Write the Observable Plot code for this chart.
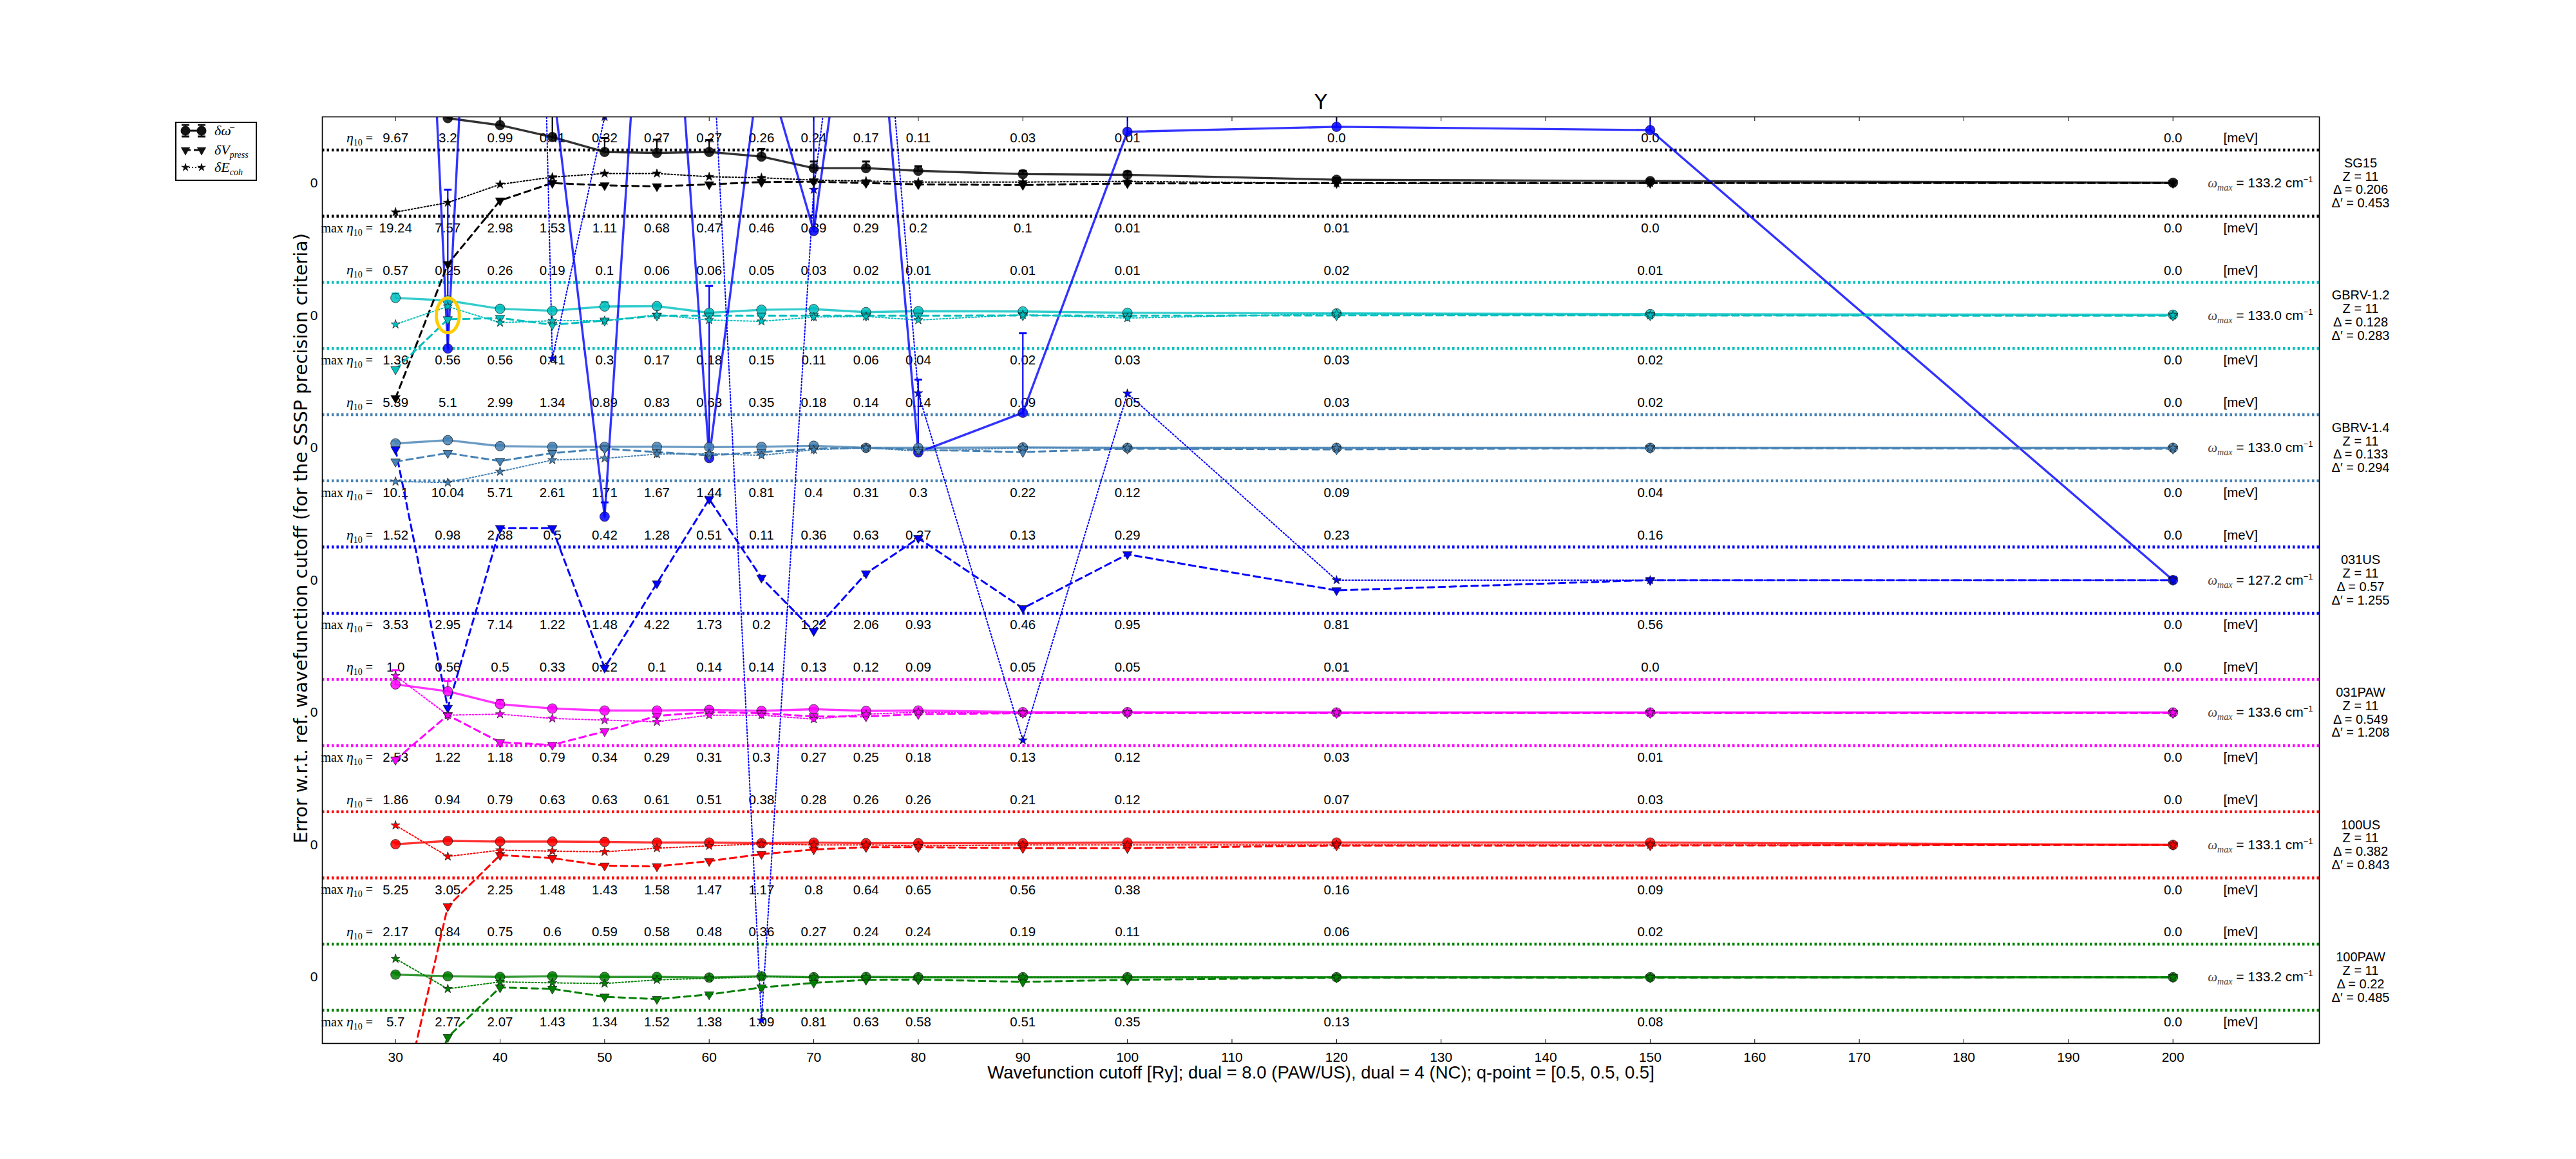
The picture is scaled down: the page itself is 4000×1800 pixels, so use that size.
<!DOCTYPE html>
<html>
<head>
<meta charset="utf-8">
<script src="https://cdn.jsdelivr.net/npm/d3@7"></script>
<script src="https://cdn.jsdelivr.net/npm/@observablehq/plot@0.6"></script>
<style>
  html, body { margin: 0; padding: 0; background: #ffffff; }
  #wrap { position: relative; width: 4000px; height: 1800px; overflow: hidden; }
  #legend { position: absolute; left: 271px; top: 188px; }
</style>
</head>
<body>
<div id="wrap"></div>
<script>
// ---------------- data ----------------
const cutoffs = [30, 35, 40, 45, 50, 55, 60, 65, 70, 75, 80, 90, 100, 120, 150, 200];
const pseudos = ["SG15", "GBRV-1.2", "GBRV-1.4", "031US", "031PAW", "100US", "100PAW"];
const zNumber = [11, 11, 11, 11, 11, 11, 11];
const omegaMax = [133.2, 133.0, 133.0, 127.2, 133.6, 133.1, 133.2];
const delta = [0.206, 0.128, 0.133, 0.57, 0.549, 0.382, 0.22];
const deltaPrime = [0.453, 0.283, 0.294, 1.255, 1.208, 0.843, 0.485];

// errors in units of the precision criterion (band = +-1)
const dOmega = [
  [3.5, 1.96, 1.75, 1.39, 0.94, 0.91, 0.94, 0.8, 0.45, 0.45, 0.37, 0.27, 0.25, 0.1, 0.06, 0.01],
  [0.53, 0.45, 0.2, 0.14, 0.27, 0.28, 0.08, 0.17, 0.19, 0.1, 0.13, 0.12, 0.08, 0.06, 0.04, 0.02],
  [0.13, 0.23, 0.05, 0.03, 0.03, 0.03, 0.02, 0.03, 0.06, 0.0, 0.0, 0.01, 0.0, 0.0, 0.0, 0.0],
  [40.8, 7.0, 38.9, 15.1, 1.92, 26, 3.69, 16, 10.55, 22, 3.86, 5.06, 13.55, 13.7, 13.6, 0.0],
  [0.85, 0.64, 0.25, 0.12, 0.06, 0.06, 0.08, 0.05, 0.1, 0.05, 0.06, 0.01, 0.01, 0.0, 0.0, 0.0],
  [0.02, 0.12, 0.1, 0.1, 0.09, 0.07, 0.07, 0.05, 0.07, 0.05, 0.05, 0.05, 0.07, 0.07, 0.07, 0.0],
  [0.08, 0.03, 0.01, 0.03, 0.01, 0.01, -0.01, 0.03, 0.0, 0.01, 0.0, 0.0, 0.0, 0.0, 0.0, 0.0]
];
const dOmegaErr = [
  [1.0, 0.8, 0.7, 0.65, 0.42, 0.4, 0.36, 0.23, 0.2, 0.2, 0.14, 0.1, 0.1, 0.05, 0.05, 0.02],
  [0.13, 0.08, 0.05, 0.05, 0.13, 0.05, 0.04, 0.04, 0.04, 0.03, 0.03, 0.02, 0.02, 0.02, 0.02, 0.01],
  [0.08, 0.06, 0.04, 0.04, 0.04, 0.03, 0.03, 0.03, 0.03, 0.02, 0.02, 0.02, 0.02, 0.01, 0.01, 0.01],
  [5.0, 4.8, 5.0, 5.0, 0.43, 5.0, 5.2, 5.0, 6.0, 5.0, 2.2, 2.4, 2.0, 2.0, 2.0, 0.1],
  [0.43, 0.31, 0.13, 0.05, 0.04, 0.04, 0.04, 0.03, 0.03, 0.03, 0.03, 0.02, 0.02, 0.01, 0.01, 0.01],
  [0.06, 0.05, 0.05, 0.05, 0.05, 0.04, 0.04, 0.04, 0.04, 0.03, 0.03, 0.03, 0.03, 0.02, 0.02, 0.01],
  [0.06, 0.05, 0.05, 0.05, 0.04, 0.04, 0.04, 0.04, 0.03, 0.03, 0.03, 0.03, 0.02, 0.02, 0.02, 0.01]
];
const dVpress = [
  [-6.5, -2.45, -0.53, 0.0, -0.07, -0.1, -0.04, 0.03, 0.04, 0.0, -0.04, -0.06, -0.01, 0.0, 0.0, 0.0],
  [-1.63, -0.12, -0.08, -0.28, -0.16, -0.01, -0.01, -0.01, -0.01, -0.01, -0.01, 0.0, -0.01, 0.0, 0.0, -0.01],
  [-0.42, -0.16, -0.4, -0.16, -0.03, -0.13, -0.23, -0.13, -0.03, 0.0, -0.06, -0.13, -0.03, -0.05, -0.01, -0.03],
  [3.95, -3.86, 1.57, 1.57, -2.65, -0.1, 2.45, 0.07, -1.54, 0.2, 1.27, -0.85, 0.78, -0.31, 0.0, 0.0],
  [-1.43, -0.08, -0.9, -0.98, -0.57, -0.1, 0.01, -0.02, -0.12, -0.12, -0.05, -0.02, -0.02, -0.02, -0.02, -0.02],
  [-8.7, -1.86, -0.31, -0.4, -0.63, -0.65, -0.49, -0.28, -0.14, -0.07, -0.07, -0.1, -0.1, -0.02, -0.02, 0.0],
  [-6.0, -1.81, -0.31, -0.35, -0.59, -0.66, -0.52, -0.31, -0.17, -0.08, -0.07, -0.14, -0.08, -0.01, -0.01, 0.0]
];
const dEcoh = [
  [-0.88, -0.59, -0.04, 0.18, 0.29, 0.29, 0.19, 0.16, 0.09, 0.06, 0.03, 0.03, 0.05, -0.01, 0.0, 0.0],
  [-0.27, 0.27, -0.22, -0.16, -0.16, 0.02, -0.14, -0.18, -0.05, -0.03, -0.14, 0.02, -0.08, 0.05, 0.0, 0.0],
  [-1.02, -1.05, -0.72, -0.37, -0.32, -0.19, -0.18, -0.23, -0.06, 0.0, -0.1, 0.0, 0.0, 0.0, 0.0, 0.0],
  [80, 85, 73, 6.7, 14.0, 30, 18.4, -13.3, 11.8, 24.5, 5.65, -4.84, 5.64, 0.0, 0.0, 0.0],
  [1.11, -0.08, -0.05, -0.18, -0.23, -0.28, -0.08, -0.08, -0.2, -0.05, 0.01, -0.02, 0.0, 0.0, 0.0, 0.0],
  [0.59, -0.35, -0.16, -0.19, -0.21, -0.1, -0.03, 0.03, 0.0, 0.0, -0.03, 0.0, 0.0, 0.0, 0.0, 0.0],
  [0.56, -0.35, -0.14, -0.17, -0.19, -0.08, -0.03, 0.01, 0.0, 0.0, 0.0, 0.0, 0.0, 0.0, 0.0, 0.0]
];
const eta10 = [
  [9.67, 3.2, 0.99, 0.41, 0.32, 0.27, 0.27, 0.26, 0.24, 0.17, 0.11, 0.03, 0.01, 0.0, 0.0, 0.0],
  [0.57, 0.25, 0.26, 0.19, 0.1, 0.06, 0.06, 0.05, 0.03, 0.02, 0.01, 0.01, 0.01, 0.02, 0.01, 0.0],
  [5.39, 5.1, 2.99, 1.34, 0.89, 0.83, 0.63, 0.35, 0.18, 0.14, 0.14, 0.09, 0.05, 0.03, 0.02, 0.0],
  [1.52, 0.98, 2.88, 0.5, 0.42, 1.28, 0.51, 0.11, 0.36, 0.63, 0.27, 0.13, 0.29, 0.23, 0.16, 0.0],
  [1.0, 0.56, 0.5, 0.33, 0.12, 0.1, 0.14, 0.14, 0.13, 0.12, 0.09, 0.05, 0.05, 0.01, 0.0, 0.0],
  [1.86, 0.94, 0.79, 0.63, 0.63, 0.61, 0.51, 0.38, 0.28, 0.26, 0.26, 0.21, 0.12, 0.07, 0.03, 0.0],
  [2.17, 0.84, 0.75, 0.6, 0.59, 0.58, 0.48, 0.36, 0.27, 0.24, 0.24, 0.19, 0.11, 0.06, 0.02, 0.0]
];
const maxEta10 = [
  [19.24, 7.57, 2.98, 1.53, 1.11, 0.68, 0.47, 0.46, 0.39, 0.29, 0.2, 0.1, 0.01, 0.01, 0.0, 0.0],
  [1.36, 0.56, 0.56, 0.41, 0.3, 0.17, 0.18, 0.15, 0.11, 0.06, 0.04, 0.02, 0.03, 0.03, 0.02, 0.0],
  [10.1, 10.04, 5.71, 2.61, 1.71, 1.67, 1.44, 0.81, 0.4, 0.31, 0.3, 0.22, 0.12, 0.09, 0.04, 0.0],
  [3.53, 2.95, 7.14, 1.22, 1.48, 4.22, 1.73, 0.2, 1.22, 2.06, 0.93, 0.46, 0.95, 0.81, 0.56, 0.0],
  [2.53, 1.22, 1.18, 0.79, 0.34, 0.29, 0.31, 0.3, 0.27, 0.25, 0.18, 0.13, 0.12, 0.03, 0.01, 0.0],
  [5.25, 3.05, 2.25, 1.48, 1.43, 1.58, 1.47, 1.17, 0.8, 0.64, 0.65, 0.56, 0.38, 0.16, 0.09, 0.0],
  [5.7, 2.77, 2.07, 1.43, 1.34, 1.52, 1.38, 1.09, 0.81, 0.63, 0.58, 0.51, 0.35, 0.13, 0.08, 0.0]
];
const xTicks = [30, 40, 50, 60, 70, 80, 90, 100, 110, 120, 130, 140, 150, 160, 170, 180, 190, 200];
const highlightPseudo = "GBRV-1.2";
const highlightCutoff = 35;
const titleText = "Y";
const xLabel = "Wavefunction cutoff [Ry]; dual = 8.0 (PAW/US), dual = 4 (NC); q-point = [0.5, 0.5, 0.5]";
const yLabel = "Error w.r.t. ref. wavefunction cutoff (for the SSSP precision criteria)";

// ---------------- build ----------------
const rowColors = ["#000000", "#00bfbf", "#4682b4", "#0000ff", "#ff00ff", "#ff0000", "#008000"];
const BAND = 0.25;        // one precision criterion in row units
const TXT = 0.34;         // offset of the eta10 text rows
const toY = (i, v) => -i + BAND * v;
const fmt = v => Number.isInteger(v) ? v.toFixed(1) : String(v);

const pts = (arr, err) => arr.flatMap((vals, i) => vals.map((v, j) => ({
  row: pseudos[i], x: cutoffs[j], y: toY(i, v), yTop: err ? toY(i, v + err[i][j]) : null
})));
const omegaPts = pts(dOmega, dOmegaErr);
const vPts = pts(dVpress);
const ePts = pts(dEcoh);
const bands = pseudos.flatMap((p, i) => [{row: p, y: toY(i, 1)}, {row: p, y: toY(i, -1)}]);
const etaPts = eta10.flatMap((vals, i) => vals.map((v, j) => ({x: cutoffs[j], y: -i + TXT, t: fmt(v)})));
const maxPts = maxEta10.flatMap((vals, i) => vals.map((v, j) => ({x: cutoffs[j], y: -i - TXT, t: fmt(v)})));
const etaLab = pseudos.flatMap((p, i) => [{y: -i + TXT, t: "η10 ="}, {y: -i - TXT, t: "max η10 ="}]);
const meV = pseudos.flatMap((p, i) => [{y: -i + TXT}, {y: -i - TXT}]);
const rows = pseudos.map((p, i) => ({
  row: p, y: -i,
  w: fmt(omegaMax[i]),
  info: `${p}\nZ = ${zNumber[i]}\nΔ = ${delta[i]}\nΔ′ = ${deltaPrime[i]}`
}));
const hl = [{x: highlightCutoff, y: toY(pseudos.indexOf(highlightPseudo), 0)}];

const triDown = {draw(ctx, size) {
  const y = Math.sqrt(size / (Math.sqrt(3) * 3));
  ctx.moveTo(0, 2 * y); ctx.lineTo(-Math.sqrt(3) * y, -y); ctx.lineTo(Math.sqrt(3) * y, -y); ctx.closePath();
}};
const capSym = {draw(ctx, size) { const w = Math.sqrt(size / Math.PI); ctx.moveTo(-w, 0); ctx.lineTo(w, 0); }};
const ellSym = {draw(ctx, size) {
  const ry = Math.sqrt(size / Math.PI), rx = ry * 0.66, k = 0.5523;
  ctx.moveTo(rx, 0);
  ctx.bezierCurveTo(rx, k * ry, k * rx, ry, 0, ry);
  ctx.bezierCurveTo(-k * rx, ry, -rx, k * ry, -rx, 0);
  ctx.bezierCurveTo(-rx, -k * ry, -k * rx, -ry, 0, -ry);
  ctx.bezierCurveTo(k * rx, -ry, rx, -k * ry, rx, 0);
  ctx.closePath();
}};

const SANS = "'Liberation Sans', Arial, sans-serif";
const chart = Plot.plot({
  width: 4000, height: 1800,
  marginLeft: 500, marginRight: 399, marginTop: 181, marginBottom: 180,
  x: {domain: [23, 214]},
  y: {domain: [-6.5, 0.5]},
  color: {domain: pseudos, range: rowColors},
  style: {fontFamily: SANS, fontSize: "20px", background: "white", color: "black"},
  marks: [
    Plot.ruleY(bands, {y: "y", stroke: "row", strokeWidth: 4.5, strokeDasharray: "3.5,4"}),
    // text rows
    Plot.text(etaPts, {x: "x", y: "y", text: "t", fontSize: 20.5}),
    Plot.text(maxPts, {x: "x", y: "y", text: "t", fontSize: 20.5}),
    Plot.text(etaLab, {x: () => cutoffs[0], y: "y", text: "t", textAnchor: "end", dx: -35, fontSize: 20, className: "eta-label"}),
    Plot.text(meV, {x: () => cutoffs[cutoffs.length - 1], y: "y", text: () => "[meV]", dx: 105, fontSize: 20.5}),
    // lines
    Plot.line(omegaPts, {x: "x", y: "y", z: "row", stroke: "row", strokeWidth: 3.4, strokeOpacity: 0.8, clip: true}),
    Plot.line(vPts, {x: "x", y: "y", z: "row", stroke: "row", strokeWidth: 3, strokeDasharray: "10,7", clip: true}),
    Plot.line(ePts, {x: "x", y: "y", z: "row", stroke: "row", strokeWidth: 2, strokeDasharray: "2,3", clip: true}),
    // error bars
    Plot.ruleX(omegaPts, {x: "x", y1: "y", y2: "yTop", stroke: "row", strokeWidth: 2.2, clip: true}),
    Plot.dot(omegaPts, {x: "x", y: "yTop", symbol: capSym, r: 6, fill: "none", stroke: "row", strokeWidth: 3, clip: true}),
    // markers
    Plot.dot(omegaPts, {x: "x", y: "y", symbol: "circle", r: 7.5, fill: "row", fillOpacity: 0.85, stroke: "#111", strokeWidth: 0.7, clip: true}),
    Plot.dot(vPts, {x: "x", y: "y", symbol: triDown, r: 5.4, fill: "row", stroke: "#111", strokeWidth: 0.7, clip: true}),
    Plot.dot(ePts, {x: "x", y: "y", symbol: "star", r: 4.4, fill: "row", stroke: "#111", strokeWidth: 0.7, clip: true}),
    // highlight
    Plot.dot(hl, {x: "x", y: "y", symbol: ellSym, r: 27, fill: "none", stroke: "#ffcc00", strokeWidth: 5}),
    // right-hand labels
    Plot.text(rows, {y: "y", frameAnchor: "right", text: "w", textAnchor: "end", dx: -10, fontSize: 21, className: "omega-label"}),
    Plot.text(rows, {y: "y", frameAnchor: "right", text: "info", textAnchor: "middle", dx: 64, lineHeight: 1.04, fontSize: 20}),
    // axes
    Plot.axisX({ticks: xTicks, tickSize: -6, tickPadding: 20, fontSize: 21, label: null}),
    Plot.axisX({anchor: "top", ticks: xTicks, tickSize: -6, tickFormat: () => "", label: null}),
    Plot.axisY({ticks: pseudos.map((p, i) => -i), tickSize: 0, tickPadding: 7, tickFormat: () => "0", fontSize: 21, label: null}),
    Plot.frame({stroke: "black", strokeWidth: 1.6}),
    // titles
    Plot.text([titleText], {frameAnchor: "top", dy: -23, text: d => d, fontSize: 32, fontFamily: "'DejaVu Sans', sans-serif", lineAnchor: "middle"}),
    Plot.text([xLabel], {frameAnchor: "bottom", dy: 46, text: d => d, fontSize: 27.5, lineAnchor: "middle"}),
    Plot.text([yLabel], {frameAnchor: "left", dx: -33, dy: -65, rotate: -90, text: d => d, textAnchor: "middle", fontSize: 28.5, fontFamily: "'DejaVu Sans', sans-serif", lineAnchor: "middle"})
  ]
});
document.getElementById("wrap").append(chart);

// rich-text formatting of math labels
const SERIF = "'Liberation Serif', 'DejaVu Serif', serif";
d3.select(chart).selectAll(".eta-label text").each(function() {
  const isMax = this.textContent.startsWith("max");
  this.innerHTML = (isMax ? `<tspan font-family="${SERIF}">max </tspan>` : "") +
    `<tspan font-family="${SERIF}" font-style="italic" font-size="22">η</tspan><tspan font-family="${SERIF}" font-size="14" dy="5">10</tspan><tspan font-family="${SERIF}" dy="-5"> =</tspan>`;
});
d3.select(chart).selectAll(".omega-label text").each(function() {
  const val = this.textContent;
  this.innerHTML = `<tspan font-family="${SERIF}" font-style="italic" fill="#444">ω</tspan><tspan font-family="${SERIF}" font-style="italic" font-size="14" dy="5" fill="#444">max</tspan><tspan dy="-5"> = ${val} cm</tspan><tspan font-size="13" dy="-8">−1</tspan>`;
});

// legend (outside the plot, upper-left)
const legendLabels = [["δω̄", ""], ["δV", "press"], ["δE", "coh"]];
const leg = d3.select("#wrap").append("svg").attr("id", "legend").attr("width", 132).attr("height", 96);
leg.append("rect").attr("x", 2).attr("y", 2).attr("width", 125).attr("height", 90)
  .attr("fill", "white").attr("stroke", "black").attr("stroke-width", 2);
const ly = [15, 45, 72], lx = [17, 42];
// row 1
leg.append("line").attr("x1", lx[0]).attr("x2", lx[1]).attr("y1", ly[0]).attr("y2", ly[0]).attr("stroke", "#111").attr("stroke-width", 3);
lx.forEach(x => {
  leg.append("line").attr("x1", x).attr("x2", x).attr("y1", ly[0] - 9).attr("y2", ly[0] + 9).attr("stroke", "#111").attr("stroke-width", 2.5);
  [-9, 9].forEach(o => leg.append("line").attr("x1", x - 6).attr("x2", x + 6).attr("y1", ly[0] + o).attr("y2", ly[0] + o).attr("stroke", "#111").attr("stroke-width", 3));
  leg.append("circle").attr("cx", x).attr("cy", ly[0]).attr("r", 7.5).attr("fill", "#111");
});
// row 2
leg.append("line").attr("x1", lx[0]).attr("x2", lx[1]).attr("y1", ly[1]).attr("y2", ly[1]).attr("stroke", "#111").attr("stroke-width", 3).attr("stroke-dasharray", "8,5");
lx.forEach(x => leg.append("path").attr("transform", `translate(${x},${ly[1]})`).attr("d", d3.symbol(triDown, Math.PI * 5.4 * 5.4)()).attr("fill", "#111"));
// row 3
leg.append("line").attr("x1", lx[0]).attr("x2", lx[1]).attr("y1", ly[2]).attr("y2", ly[2]).attr("stroke", "#111").attr("stroke-width", 2).attr("stroke-dasharray", "2,3");
lx.forEach(x => leg.append("path").attr("transform", `translate(${x},${ly[2]})`).attr("d", d3.symbol(d3.symbolStar, Math.PI * 4.4 * 4.4)()).attr("fill", "#111"));
legendLabels.forEach(([main, sub], k) => {
  const t = leg.append("text").attr("x", 62).attr("y", ly[k] + 7).attr("font-family", SERIF).attr("font-style", "italic").attr("font-size", 22);
  t.append("tspan").text(main);
  if (sub) t.append("tspan").attr("font-size", 14).attr("dy", 5).text(sub);
});
</script>
</body>
</html>
